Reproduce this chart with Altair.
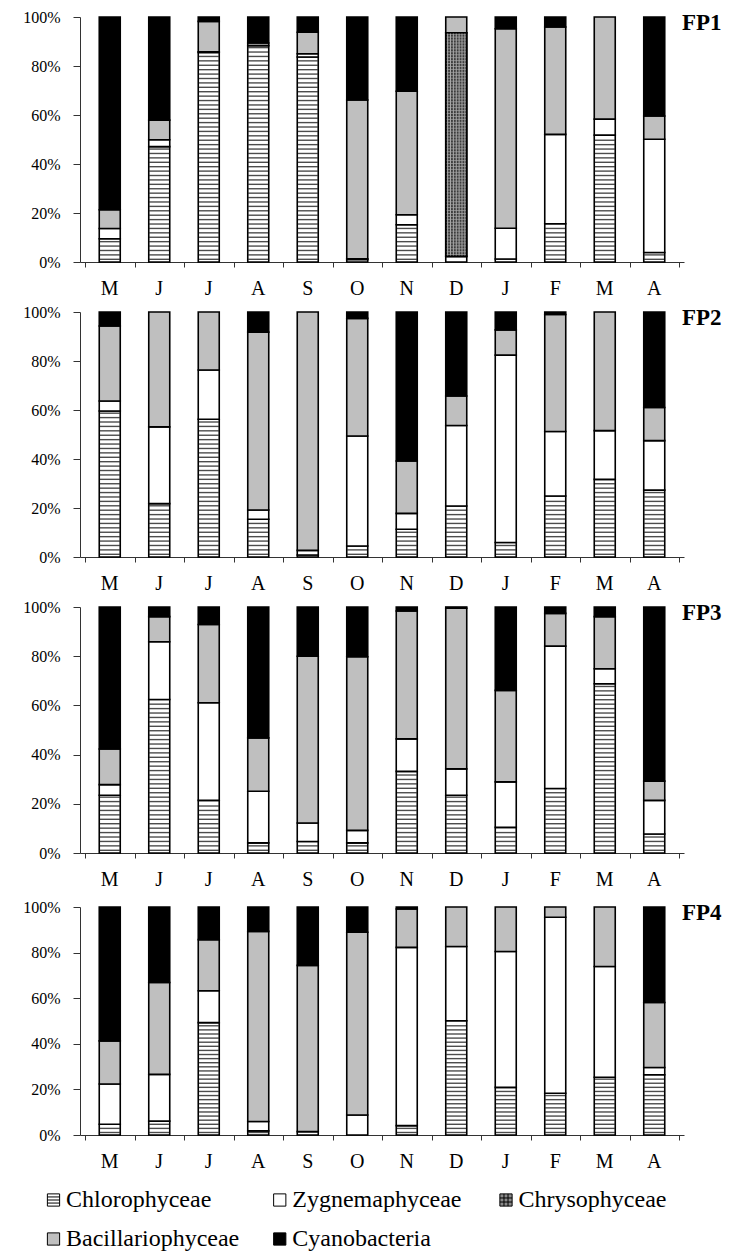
import altair as alt
import pandas as pd

months = ["M", "J", "J", "A", "S", "O", "N", "D", "J", "F", "M", "A"]
species = ["Chlorophyceae", "Zygnemaphyceae", "Chrysophyceae", "Bacillariophyceae", "Cyanobacteria"]
panels = ["FP1", "FP2", "FP3", "FP4"]

fp1_chloro = [9.5, 47.1, 85.5, 88.3, 83.7, 1.0, 15.2, 0.0, 1.2, 15.6, 51.8, 3.9]
fp1_zygne = [4.2, 2.8, 0.3, 0.0, 1.3, 0.3, 4.1, 2.3, 12.6, 36.5, 6.5, 46.2]
fp1_chryso = [0, 0, 0, 0, 0, 0, 0, 91.3, 0, 0, 0, 0]
fp1_bacil = [7.6, 8.0, 12.4, 1.1, 8.8, 64.8, 50.4, 6.4, 81.4, 43.8, 41.7, 9.5]
fp1_cyano = [78.7, 42.1, 1.8, 10.6, 6.2, 33.9, 30.3, 0.0, 4.8, 4.1, 0.0, 40.4]

fp2_chloro = [59.6, 21.8, 56.2, 15.4, 0.8, 4.5, 11.3, 20.8, 5.9, 24.9, 31.7, 27.3]
fp2_zygne = [4.1, 31.3, 20.1, 3.8, 1.9, 44.9, 6.5, 32.9, 76.5, 26.3, 19.9, 20.2]
fp2_chryso = [0] * 12
fp2_bacil = [30.6, 46.9, 23.7, 72.6, 97.3, 48.0, 21.4, 12.0, 10.3, 47.8, 48.4, 13.5]
fp2_cyano = [5.7, 0, 0, 8.2, 0, 2.6, 60.8, 34.3, 7.3, 1.0, 0, 39.0]

fp3_chloro = [23.5, 62.4, 21.4, 4.1, 4.7, 4.1, 33.2, 23.5, 10.4, 26.2, 68.8, 7.7]
fp3_zygne = [4.3, 23.5, 39.7, 21.0, 7.5, 5.1, 13.2, 10.7, 18.5, 57.9, 6.1, 13.7]
fp3_chryso = [0] * 12
fp3_bacil = [14.5, 10.2, 31.8, 21.7, 67.8, 70.6, 52.0, 65.3, 37.2, 13.3, 21.2, 7.8]
fp3_cyano = [57.7, 3.9, 7.1, 53.2, 20.0, 20.2, 1.6, 0.5, 33.9, 2.6, 3.9, 70.8]

fp4_chloro = [4.7, 6.1, 49.3, 1.8, 1.5, 0.0, 4.1, 50.1, 20.9, 18.3, 25.3, 26.4]
fp4_zygne = [17.7, 20.5, 14.0, 4.1, 0.0, 8.8, 78.2, 32.6, 59.6, 77.2, 48.6, 3.2]
fp4_chryso = [0] * 12
fp4_bacil = [18.9, 40.3, 22.4, 83.4, 72.9, 80.1, 16.8, 17.3, 19.5, 4.5, 26.1, 28.5]
fp4_cyano = [58.7, 33.1, 14.3, 10.7, 25.6, 11.1, 0.9, 0, 0, 0, 0, 41.9]

series = {
    "FP1": [fp1_chloro, fp1_zygne, fp1_chryso, fp1_bacil, fp1_cyano],
    "FP2": [fp2_chloro, fp2_zygne, fp2_chryso, fp2_bacil, fp2_cyano],
    "FP3": [fp3_chloro, fp3_zygne, fp3_chryso, fp3_bacil, fp3_cyano],
    "FP4": [fp4_chloro, fp4_zygne, fp4_chryso, fp4_bacil, fp4_cyano],
}

rows = []
for p in panels:
    for i, m in enumerate(months):
        base = 0.0
        for k, sp in enumerate(species):
            v = series[p][k][i]
            rows.append(dict(panel=p, idx=i, pos=i + 0.5, month=m, species=sp, ord=k,
                             value=v, y0=base, y1=base + v))
            base += v
df = pd.DataFrame(rows)

fills = ["#ffffff", "#ffffff", "#3c3c3c", "#bfbfbf", "#000000"]
legend_fills = ["#ffffff", "#ffffff", "#8a8a8a", "#bfbfbf", "#000000"]
shapes = [
    "M-1,-1H1V1H-1Z M-1,-0.5H1 M-1,0H1 M-1,0.5H1",
    "square",
    "M-1,-1H1V1H-1Z M-1,-0.33H1 M-1,0.33H1 M-0.33,-1V1 M0.33,-1V1",
    "square",
    "square",
]

SERIF = "'Liberation Serif', 'Times New Roman', Times, Tinos, 'DejaVu Serif', serif"
W = 604
# (panel height, empty strip above the axis)
geom = {"FP1": (245, 0), "FP2": (245, 0), "FP3": (246, 0), "FP4": (232, 4)}

color = alt.Color("species:N", scale=alt.Scale(domain=species, range=fills), legend=None)


def panel(name):
    h, off = geom[name]
    d = df[df.panel == name]
    base = alt.Chart(d)
    x = alt.X(
        "pos:Q", title=None,
        scale=alt.Scale(domain=[0, 12], nice=False, zero=False),
        axis=alt.Axis(
            values=list(range(13)), grid=False, tickSize=5, labels=False,
            domainColor="#333333", tickColor="#333333",
        ),
    )
    y = alt.Y(
        "y1:Q", title=None,
        scale=alt.Scale(domain=[0, 100], nice=False, range=[h, off]),
        axis=alt.Axis(
            values=[0, 20, 40, 60, 80, 100], grid=False, tickSize=7, labelPadding=13,
            labelExpr="datum.value + '%'", labelFont=SERIF, labelFontSize=16,
            labelColor="black", domainColor="#333333", tickColor="#333333",
        ),
    )
    bars = base.transform_filter("datum.value > 0").mark_bar(
        size=21, stroke="black", strokeWidth=1.6, orient="vertical"
    ).encode(x=x, y=y, y2="y0:Q", color=color)

    stripes = base.transform_filter(
        "datum.species === 'Chlorophyceae' && datum.value > 1.2"
    ).transform_calculate(
        s="sequence(1.1, datum.y1 - 0.5, 1.8)"
    ).transform_flatten(["s"]).mark_tick(
        orient="horizontal", size=20, thickness=1.4, color="black"
    ).encode(x="pos:Q", y="s:Q")

    chry = base.transform_filter("datum.species === 'Chrysophyceae' && datum.value > 0")
    chry_h = chry.transform_calculate(
        s="sequence(datum.y0 + 0.7, datum.y1 - 0.3, 1.2)"
    ).transform_flatten(["s"]).mark_tick(
        orient="horizontal", size=20, thickness=1, color="#a8a8a8"
    ).encode(x="pos:Q", y="s:Q")
    chry_v = chry.transform_calculate(
        k="sequence(-3, 4)"
    ).transform_flatten(["k"]).transform_calculate(
        xv="datum.pos + datum.k * 0.058"
    ).mark_rule(color="#a8a8a8", strokeWidth=1).encode(x="xv:Q", y="y0:Q", y2="y1:Q")
    chry_box = chry.mark_bar(size=21, fill=None, stroke="black", strokeWidth=1.6,
                             orient="vertical").encode(x="pos:Q", y="y1:Q", y2="y0:Q")

    month_text = base.transform_filter("datum.ord === 0").mark_text(
        font=SERIF, fontSize=20, color="black", baseline="middle", align="center"
    ).encode(x="pos:Q", y=alt.value(h + 27), text="month:N")

    label = alt.Chart(pd.DataFrame({"t": [name]})).mark_text(
        font=SERIF, fontWeight="bold", fontSize=23, align="left", baseline="middle",
        color="black"
    ).encode(x=alt.value(W - 2), y=alt.value(6 + off), text="t:N")

    return alt.layer(bars, stripes, chry_h, chry_v, chry_box, month_text, label).properties(
        width=W, height=h
    )


# Legend drawn as its own small chart (entries laid out in 3 columns)
leg_df = pd.DataFrame({
    "species": species,
    "fillc": legend_fills,
    "shp": shapes,
    "col": [k % 3 for k in range(len(species))],
    "row": [k // 3 for k in range(len(species))],
})
lx = alt.X("col:Q", axis=None, scale=alt.Scale(domain=[0, 2], range=[-26.5, 426], nice=False, zero=False))
ly = alt.Y("row:Q", axis=None, scale=alt.Scale(domain=[0, 1], range=[15, 54], nice=False, zero=False))
leg_base = alt.Chart(leg_df)
leg_sym = leg_base.mark_point(filled=True, size=150, stroke="black", strokeWidth=1, opacity=1).encode(
    x=lx, y=ly,
    color=alt.Color("fillc:N", scale=None, legend=None),
    shape=alt.Shape("shp:N", scale=None, legend=None),
)
leg_txt = leg_base.mark_text(
    font=SERIF, fontSize=24, color="black", align="left", baseline="middle", dx=12.5
).encode(x=lx, y=ly, text="species:N")
legend_chart = alt.layer(leg_sym, leg_txt).properties(width=W, height=56)

chart = alt.vconcat(*[panel(p) for p in panels], legend_chart, spacing=50, bounds="flush").properties(
    padding={"left": 14, "top": 1, "right": 0, "bottom": 0}
).configure_view(stroke=None)

chart.save("out.html", embed_options={"renderer": "svg", "actions": False})
